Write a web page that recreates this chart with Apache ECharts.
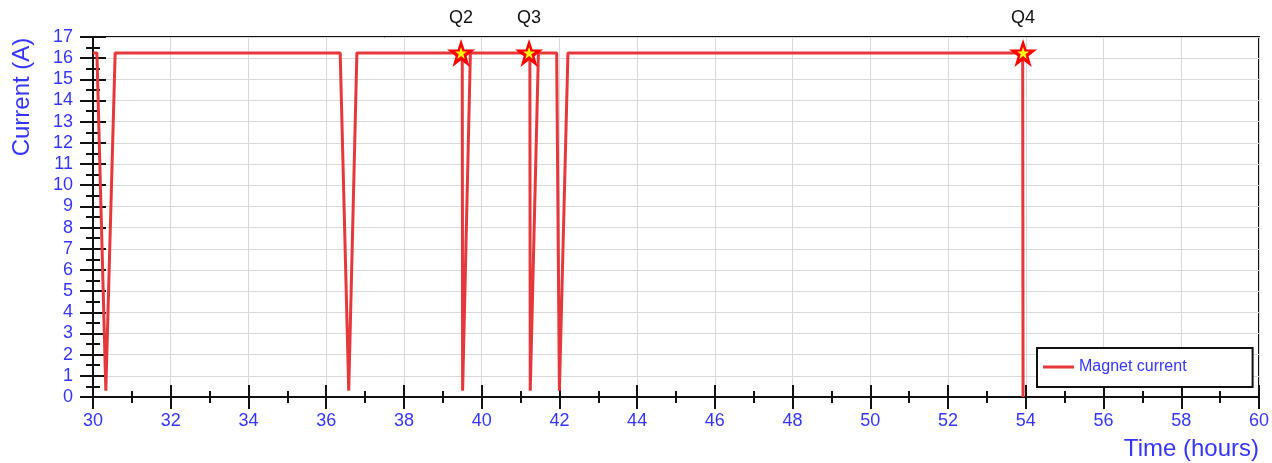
<!DOCTYPE html>
<html>
<head>
<meta charset="utf-8">
<script src="https://cdn.jsdelivr.net/npm/echarts@6/dist/echarts.min.js"></script>
<style>
html,body{margin:0;padding:0;background:#fff;}
#chart{width:1272px;height:463px;}
</style>
</head>
<body>
<div id="chart"></div>
<script>
// Magnet current trace (time in hours, current in A)
var timeHours = [30.0, 30.1, 30.33, 30.57, 36.36, 36.58, 36.79, 39.50, 39.51, 39.71, 41.24, 41.25, 41.46, 41.93, 42.0, 42.22, 53.92, 53.93];
var currentA  = [16.25, 16.25, 0.3, 16.25, 16.25, 0.3, 16.25, 16.25, 0.3, 16.25, 16.25, 0.3, 16.25, 16.25, 0.3, 16.25, 16.25, 0.0];
// Quench markers
var quenchNames = ['Q2', 'Q3', 'Q4'];
var quenchTimes = [39.47, 41.22, 53.93];
var quenchCurrent = [16.25, 16.25, 16.25];

var FONT = 'Liberation Sans, Arial, sans-serif';
var BLUE = '#3535ff';
var RED = '#e6383b';

var lineData = timeHours.map(function (t, i) { return [t, currentA[i]]; });
var starData = quenchTimes.map(function (t, i) { return { value: [t, quenchCurrent[i]], name: quenchNames[i] }; });

var STAR = 'path://M50,0 L61.8,35.1 L98.1,35.1 L68.8,56.8 L79.4,91.9 L50,70.3 L20.6,91.9 L31.2,56.8 L1.9,35.1 L38.2,35.1 Z';

var chart = echarts.init(document.getElementById('chart'), null, { renderer: 'canvas' });
chart.setOption({
  animation: false,
  backgroundColor: '#fff',
  grid: { left: 93, right: 11, top: 37, bottom: 66, show: true, borderColor: '#111', borderWidth: 2, backgroundColor: 'transparent' },
  legend: {
    data: [{ name: 'Magnet current', icon: 'rect', itemStyle: { color: RED } }],
    left: 1037, top: 348,
    orient: 'horizontal',
    padding: [11, 66, 12, 6],
    itemWidth: 31, itemHeight: 3, itemGap: 0,
    borderColor: '#111', borderWidth: 2, borderRadius: 0,
    backgroundColor: '#fff',
    textStyle: { color: BLUE, fontSize: 16, fontFamily: FONT, lineHeight: 16 }
  },
  xAxis: [{
    type: 'value', min: 30, max: 60, interval: 2, position: 'bottom',
    axisLine: { show: true, lineStyle: { color: '#111', width: 2 } },
    axisTick: { show: true, length: 12, lineStyle: { color: '#111', width: 2 } },
    minorTick: { show: true, splitNumber: 2, length: 6, lineStyle: { color: '#111', width: 2 } },
    splitLine: { show: true, lineStyle: { color: '#d9d9d9', width: 1 } },
    axisLabel: { color: BLUE, fontSize: 18, fontFamily: FONT, margin: 15 }
  }, {
    type: 'value', min: 30, max: 60, interval: 2, position: 'bottom', offset: 0,
    axisLine: { show: true, lineStyle: { color: '#111', width: 2 } },
    axisTick: { show: true, inside: true, length: 12, lineStyle: { color: '#111', width: 2 } },
    minorTick: { show: true, splitNumber: 2, length: 6, lineStyle: { color: '#111', width: 2 } },
    splitLine: { show: false },
    axisLabel: { show: false }
  }],
  yAxis: [{
    type: 'value', min: 0, max: 17, interval: 1, position: 'left',
    axisLine: { show: true, lineStyle: { color: '#111', width: 2 } },
    axisTick: { show: true, length: 13, lineStyle: { color: '#111', width: 2 } },
    minorTick: { show: true, splitNumber: 2, length: 7, lineStyle: { color: '#111', width: 2 } },
    splitLine: { show: true, lineStyle: { color: '#d9d9d9', width: 1 } },
    axisLabel: { color: BLUE, fontSize: 18, fontFamily: FONT, margin: 20 }
  }, {
    type: 'value', min: 0, max: 17, interval: 1, position: 'left', offset: 0,
    axisLine: { show: true, lineStyle: { color: '#111', width: 2 } },
    axisTick: { show: true, inside: true, length: 13, lineStyle: { color: '#111', width: 2 } },
    minorTick: { show: true, splitNumber: 2, length: 7, lineStyle: { color: '#111', width: 2 } },
    splitLine: { show: false },
    axisLabel: { show: false }
  }],
  graphic: [{
    type: 'text', x: 22, y: 97, rotation: Math.PI / 2,
    style: { text: 'Current (A)', fill: BLUE, fontSize: 24, fontFamily: FONT, textAlign: 'center', textVerticalAlign: 'middle' }
  }, {
    type: 'text', x: 1259, y: 449,
    style: { text: 'Time (hours)', fill: BLUE, fontSize: 24, fontFamily: FONT, textAlign: 'right', textVerticalAlign: 'middle' }
  }],
  series: [{
    name: 'Magnet current', type: 'line', data: lineData,
    xAxisIndex: 0, yAxisIndex: 0,
    symbol: 'none', showSymbol: false,
    lineStyle: { color: RED, width: 3 },
    itemStyle: { color: RED },
    z: 3
  }, {
    name: 'Quench', type: 'scatter', data: starData,
    xAxisIndex: 0, yAxisIndex: 0,
    symbol: STAR, symbolSize: 28,
    itemStyle: { color: '#ff0000', opacity: 1 },
    label: { show: true, position: 'top', distance: 12, formatter: '{b}', color: '#111', fontSize: 18, fontFamily: FONT },
    z: 4
  }, {
    name: 'QuenchCore', type: 'scatter', data: starData,
    xAxisIndex: 0, yAxisIndex: 0,
    symbol: STAR, symbolSize: 12,
    itemStyle: { color: '#ffff00', opacity: 1 },
    z: 5
  }]
});
</script>
</body>
</html>
